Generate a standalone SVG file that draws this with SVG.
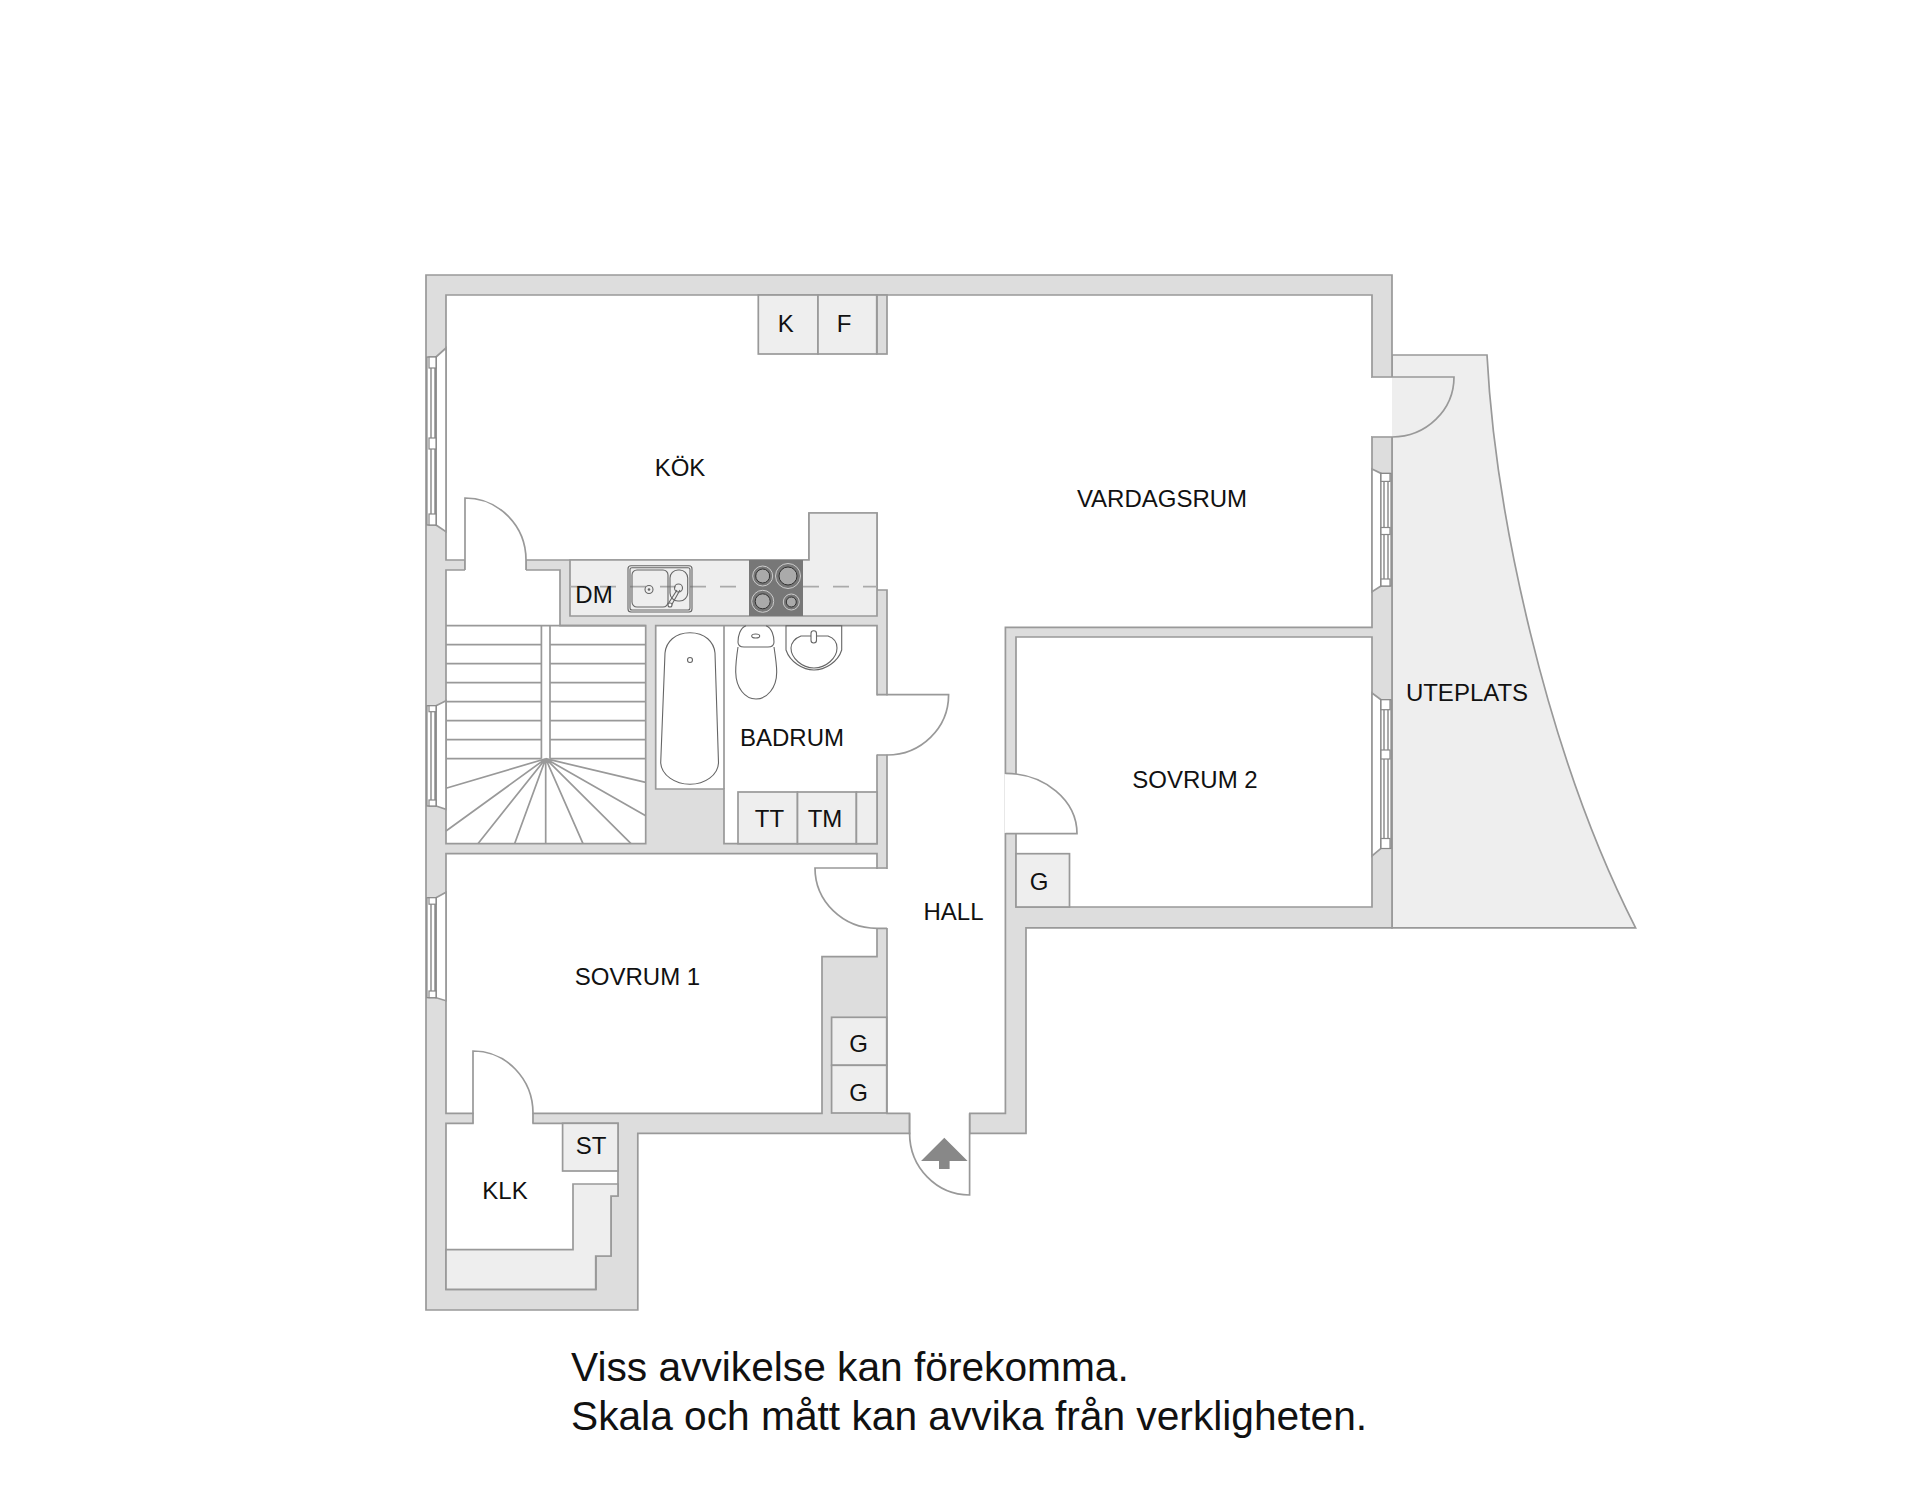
<svg xmlns="http://www.w3.org/2000/svg" width="1920" height="1494" viewBox="0 0 1920 1494">
<style>
.l{stroke:#999;stroke-width:1.7;stroke-linejoin:miter;fill:none}
.w{stroke:#999;stroke-width:1.7;fill:#fff}
.wall{stroke:#999;stroke-width:1.7;fill:#ddd}
.e{stroke:#999;stroke-width:1.7;fill:#eee}
.t{stroke:#888;stroke-width:1.2;fill:#fff}
.tn{stroke:#666;stroke-width:1.1;fill:none}
.tf{stroke:#666;stroke-width:1.1;fill:#fff}
.g{fill:#fff;stroke:none}
.lb{font-family:"Liberation Sans",Arial,sans-serif;font-size:24px;fill:#111;text-anchor:middle}
.note{font-family:"Liberation Sans",Arial,sans-serif;font-size:40.700px;fill:#111}
.b{fill:#aaa;stroke:#333;stroke-width:1}
.br{fill:none;stroke:#ccc;stroke-width:1}
</style>
<rect width="1920" height="1494" fill="#fff"/>
<g id="terrace"><path class="e" d="M1392 355H1487C1495 510 1545 750 1635.600 927.800H1392Z"/></g>
<g id="walls">
<path class="wall" d="M426 275H1392V927.800H1026V1133.300H637.800V1310H426Z"/>
</g>
<g id="rooms">
<path class="w" d="M446 295H1372V627.400H1005.400V1113.300H969.600V1133.300H909.600V1113.300H887V590H877V513H809V560H526V570H465V560H446Z"/>
<path class="w" d="M446 570H560V625.700H645.700V843.700H446Z"/>
<path class="w" d="M655.700 625.700H877V843.700H724V789H655.700Z"/>
<path class="l" d="M724 625.700V789"/>
<path class="w" d="M446 853.700H877V956.700H822V1113.300H446Z"/>
<path class="w" d="M1016 637H1372V907H1016Z"/>
<path class="w" d="M446 1123.300H618V1196H611V1256H596V1289.300H446Z"/>
<rect class="wall" x="877" y="295" width="10" height="59"/>
</g>
<g id="door-gaps">
<rect class="g" x="465" y="559" width="61" height="12.500"/>
<rect class="g" x="473.800" y="1112" width="58.500" height="13"/>
<rect class="g" x="876" y="695.500" width="12" height="59"/>
<rect class="g" x="876" y="869" width="12" height="59"/>
<rect class="g" x="1004.500" y="774" width="12.500" height="59"/>
<rect class="g" x="910.500" y="1112" width="58.500" height="23"/>
</g>
<g id="doors">
<path class="l" d="M465 570V498A61 62 0 0 1 526 560V570"/>
<path class="l" d="M473 1123.300V1051A60 62.300 0 0 1 533 1113.300V1123.300"/>
<path class="l" d="M877 694.700H948.600A61.600 60.300 0 0 1 887 755H877"/>
<path class="l" d="M887 868H815A62 60.300 0 0 0 877 928.300H887"/>
<path class="l" d="M1005.400 773.400A71.600 60.300 0 0 1 1077 833.700H1005.400"/>
<path fill="#eee" stroke="#999" stroke-width="1.700" d="M1372 377H1454A62 60 0 0 1 1392 437H1372"/>
<rect class="g" x="1371" y="378" width="21" height="58"/>
<path class="l" d="M909.600 1113.300V1133.300A60 61.700 0 0 0 969.600 1195V1113.300"/>
<path fill="#888" d="M944.300 1137.700L967.600 1161H949.600V1169H939V1161H921Z"/>
</g>
<g id="windows">
<g id="win-kitchen">
<path class="w" d="M446 348L436 357V525L446 531.700Z"/>
<rect class="t" x="427" y="357" width="9" height="168"/>
<path class="tn" d="M431 368V515M435 368V515"/>
<rect class="t" x="429" y="357" width="7" height="11"/><rect class="t" x="429" y="438" width="7" height="11"/><rect class="t" x="429" y="514" width="7" height="11"/>
</g>
<g id="win-stair">
<path class="w" d="M446 700.700L436 705.700V806L446 809.300Z"/>
<rect class="t" x="427" y="705.700" width="9" height="100.300"/>
<path class="tn" d="M431 712V800M435 712V800"/>
<rect class="t" x="429" y="705.700" width="7" height="6"/><rect class="t" x="429" y="800" width="7" height="6"/>
</g>
<g id="win-bed1">
<path class="w" d="M446 892.300L436 897.700V997.700L446 1000.700Z"/>
<rect class="t" x="427" y="897.700" width="9" height="100"/>
<path class="tn" d="M431 904V991M435 904V991"/>
<rect class="t" x="429" y="897.700" width="7" height="6.500"/><rect class="t" x="429" y="991" width="7" height="6.700"/>
</g>
<g id="win-living">
<path class="w" d="M1372 469L1381 473.400V586L1372 591.700Z"/>
<rect class="t" x="1381" y="473.400" width="10" height="112.600"/>
<path class="tn" d="M1384 481V579M1388 481V579"/>
<rect class="t" x="1381" y="473.400" width="9" height="8"/><rect class="t" x="1381" y="527.500" width="9" height="7"/><rect class="t" x="1381" y="579" width="9" height="7"/>
</g>
<g id="win-bed2">
<path class="w" d="M1372 693L1381 699.700V848.400L1372 856Z"/>
<rect class="t" x="1381" y="699.700" width="10" height="148.700"/>
<path class="tn" d="M1384 709V839M1388 709V839"/>
<rect class="t" x="1381" y="699.700" width="9" height="10"/><rect class="t" x="1381" y="750" width="9" height="9"/><rect class="t" x="1381" y="838.500" width="9" height="10"/>
</g>
</g>
<g id="stairs">
<path class="l" d="M446 625.700H645.700"/>
<path class="l" d="M446 644.700H541.400M446 663.700H541.400M446 682.700H541.400M446 701.700H541.400M446 720.700H541.400M446 739.700H541.400M446 758.700H541.400"/>
<path class="l" d="M550 644.700H645.700M550 663.700H645.700M550 682.700H645.700M550 701.700H645.700M550 720.700H645.700M550 739.700H645.700M550 758.700H645.700"/>
<path class="l" d="M541.400 625.700V758.700M550 625.700V758.700"/>
<path class="l" d="M545.700 758.700L446 788.300M545.700 758.700L446 831M545.700 758.700L477.900 843.700M545.700 758.700L514.600 843.700M545.700 758.700V843.700M545.700 758.700L583 843.700M545.700 758.700L631 843.700M545.700 758.700L645.700 815.700M545.700 758.700L645.700 782.300"/>
</g>
<g id="kitchen-fittings">
<path class="e" d="M570 560H809V513H877V616H570Z"/>
<rect x="749" y="560" width="54" height="56" fill="#777"/>
<circle class="b" cx="762.700" cy="576" r="7"/><circle class="br" cx="762.700" cy="576" r="10"/>
<circle class="b" cx="788" cy="576" r="9"/><circle class="br" cx="788" cy="576" r="12.500"/>
<circle class="b" cx="762.700" cy="601.300" r="7.500"/><circle class="br" cx="762.700" cy="601.300" r="11"/>
<circle class="b" cx="791.300" cy="602" r="5"/><circle class="br" cx="791.300" cy="602" r="8"/>
<path d="M570 586.700H749M803 586.700H877" stroke="#aaa" stroke-width="1.700" stroke-dasharray="16 14" fill="none"/>
<g id="sink">
<rect class="tn" x="628" y="565.700" width="64" height="46.300" rx="3"/>
<rect class="tn" x="630" y="567.700" width="60" height="42.300" rx="2"/>
<rect class="tn" x="632" y="570" width="36" height="37" rx="5"/>
<rect class="tn" x="670" y="570" width="17.700" height="31" rx="8"/>
<circle class="tn" cx="649" cy="589.500" r="4"/><circle cx="649" cy="589.500" r="1.300" fill="#666"/>
<circle class="tn" cx="678.500" cy="588" r="4"/>
<path class="tn" d="M677 590L668 604M680 590L671 606"/><circle class="tf" cx="670" cy="605" r="2"/>
</g>
<rect class="e" x="758.300" y="295" width="59.700" height="59"/>
<rect class="e" x="818" y="295" width="58.700" height="59"/>
</g>
<g id="bath-fittings">
<path class="tn" d="M690 632.700C675 632.700 666 642 665 653L660.700 763C661.500 775 675 784.300 690 784.300C705 784.300 718 775 718.500 763L715 653C714 642 705 632.700 690 632.700Z"/>
<circle class="tn" cx="690" cy="660" r="2.500"/>
<path class="tn" d="M746 625.700C740 628 738 636 738 642C738 645 740 647 744 647H768C772 647 774 645 774 642C774 636 772 628 766 625.700"/>
<path class="tn" d="M738 647C736 660 735.700 668 735.700 672C736 688 745 699 756 699C767 699 776.700 688 776.700 672C776.700 668 776 660 774 647"/>
<ellipse class="tn" cx="755.700" cy="636" rx="4" ry="2"/>
<path class="tn" d="M786 625.700V650C790 662 803 670 814 670C825 670 838 662 841.700 650V625.700H786Z"/>
<path class="tn" d="M801 636H828C834 638 837 643 837 648C837 658 826 668 814 668C802 668 791 658 791 648C791 643 795 638 801 636Z"/>
<rect class="tf" x="811" y="630.700" width="5.500" height="12.300" rx="2.700"/>
<rect class="e" x="738" y="792" width="59.500" height="51.700"/>
<rect class="e" x="797.500" y="792" width="58.900" height="51.700"/>
<rect class="e" x="856.400" y="792" width="20.600" height="51.700"/>
</g>
<g id="other-fittings">
<rect class="e" x="1016" y="853.700" width="53.500" height="53.300"/>
<rect class="e" x="831.600" y="1017.300" width="55.100" height="48"/>
<rect class="e" x="831.600" y="1065.300" width="55.100" height="47.700"/>
<rect class="e" x="562.600" y="1123.300" width="55.400" height="47.700"/>
<path class="e" d="M446 1249.700H573V1184H618V1196H611V1256H595.700V1289.300H446Z"/>
</g>
<g id="labels">
<text class="lb" x="680" y="476">KÖK</text>
<text class="lb" x="1162" y="506.500">VARDAGSRUM</text>
<text class="lb" x="785.700" y="332">K</text>
<text class="lb" x="844" y="332">F</text>
<text class="lb" x="594" y="603">DM</text>
<text class="lb" x="792" y="746">BADRUM</text>
<text class="lb" x="769.500" y="826.500">TT</text>
<text class="lb" x="825" y="826.500">TM</text>
<text class="lb" x="637.500" y="985">SOVRUM 1</text>
<text class="lb" x="953.500" y="920">HALL</text>
<text class="lb" x="1195" y="788">SOVRUM 2</text>
<text class="lb" x="1467" y="701">UTEPLATS</text>
<text class="lb" x="1039" y="890">G</text>
<text class="lb" x="858.600" y="1051.500">G</text>
<text class="lb" x="858.600" y="1100.500">G</text>
<text class="lb" x="591" y="1154">ST</text>
<text class="lb" x="505" y="1199">KLK</text>
<text class="note" x="571" y="1381">Viss avvikelse kan förekomma.</text>
<text class="note" x="571" y="1430">Skala och mått kan avvika från verkligheten.</text>
</g>
</svg>
